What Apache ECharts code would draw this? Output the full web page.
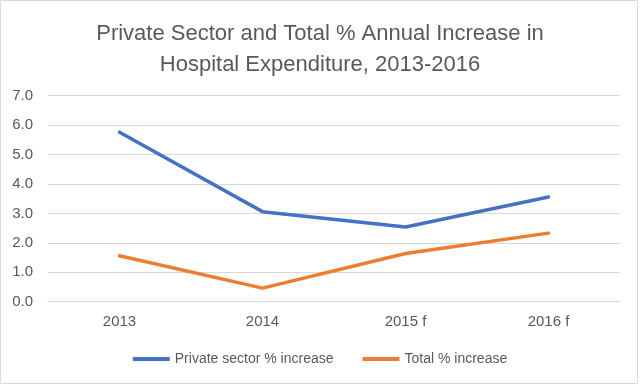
<!DOCTYPE html>
<html><head><meta charset="utf-8">
<script src="https://cdn.jsdelivr.net/npm/echarts@6/dist/echarts.min.js"></script>
<style>html,body{margin:0;padding:0;background:#fff}#c{width:640px;height:385px}</style>
</head><body><div id="c"></div>
<script>
const categories = ['2013', '2014', '2015 f', '2016 f'];
const privateSector = [5.76, 3.06, 2.54, 3.56];
const totalIncrease = [1.56, 0.46, 1.64, 2.33];
const yTicks = [0, 1, 2, 3, 4, 5, 6, 7];
const seriesNames = ['Private sector % increase', 'Total % increase'];
const titleText = 'Private Sector and Total % Annual Increase in\nHospital Expenditure, 2013-2016';

const FONT = 'Liberation Sans';
const chart = echarts.init(document.getElementById('c'), null, {renderer: 'canvas'});
chart.setOption({
  animation: false,
  backgroundColor: '#fff',
  graphic: [{type: 'rect', shape: {x: 0.5, y: 0.5, width: 637, height: 383}, style: {fill: 'none', stroke: '#D9D9D9', lineWidth: 1}}],
  title: {
    text: titleText, left: 'center', top: 13,
    textStyle: {fontFamily: FONT, fontSize: 22, fontWeight: 'normal', color: '#595959', lineHeight: 31}
  },
  legend: {
    bottom: 14, left: 'center', itemGap: 29, itemWidth: 37, itemHeight: 4, icon: 'rect',
    textStyle: {fontFamily: FONT, fontSize: 14, color: '#595959'},
    data: seriesNames
  },
  grid: {left: 48, right: 20, top: 95.7, bottom: 83.3, containLabel: false},
  xAxis: {
    type: 'category', data: categories, boundaryGap: true,
    axisLine: {show: true, lineStyle: {color: '#D9D9D9'}}, axisTick: {show: false},
    axisLabel: {fontFamily: FONT, fontSize: 15, color: '#595959', margin: 13}
  },
  yAxis: {
    type: 'value', min: yTicks[0], max: yTicks[yTicks.length - 1], interval: 1,
    axisLine: {show: false}, axisTick: {show: false},
    splitLine: {lineStyle: {color: '#D9D9D9', width: 1}},
    axisLabel: {fontFamily: FONT, fontSize: 15, color: '#595959', margin: 15, formatter: v => v.toFixed(1)}
  },
  series: [
    {name: seriesNames[0], type: 'line', data: privateSector, symbol: 'none', itemStyle: {color: '#4472C4'}, lineStyle: {color: '#4472C4', width: 3.5, cap: 'round', join: 'round'}},
    {name: seriesNames[1], type: 'line', data: totalIncrease, symbol: 'none', itemStyle: {color: '#ED7D31'}, lineStyle: {color: '#ED7D31', width: 3.5, cap: 'round', join: 'round'}}
  ]
});
</script></body></html>
